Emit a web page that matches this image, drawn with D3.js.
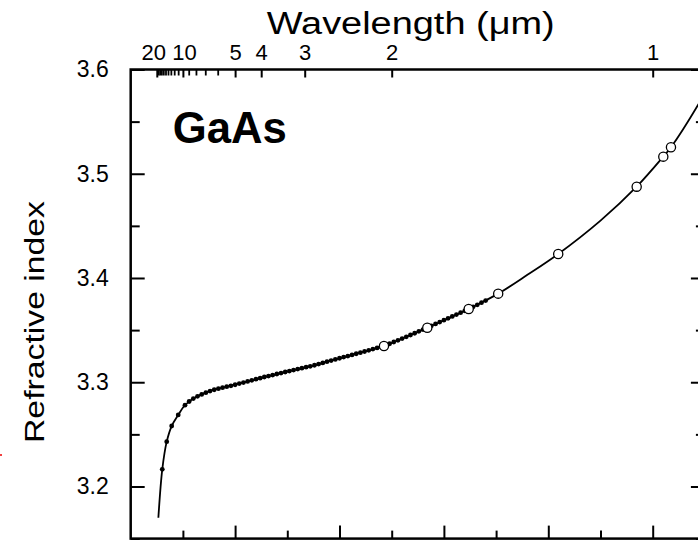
<!DOCTYPE html>
<html>
<head>
<meta charset="utf-8">
<script src="https://cdn.jsdelivr.net/npm/d3@7"></script>
<style>
  html, body { margin: 0; padding: 0; background: #fff; }
  svg { display: block; }
  text { font-family: "Liberation Sans", Arial, Helvetica, sans-serif; fill: #000; }
</style>
</head>
<body>
<svg id="chart" width="698" height="540"></svg>
<script>
// ---- data (x = 1/wavelength in µm^-1, y = refractive index) ----
const lineK = [0.053, 0.0605, 0.069, 0.0785, 0.091, 0.104, 0.126, 0.158, 0.190, 0.222, 0.254, 0.286, 0.318, 0.350, 0.381, 0.430, 0.485, 0.530, 0.568, 0.6475, 0.704, 0.760, 0.819, 0.900, 0.9693, 1.0203, 1.035, 1.0868, 1.100];
const lineN = [3.170, 3.2165, 3.243, 3.258, 3.2686, 3.278, 3.286, 3.2926, 3.2964, 3.3005, 3.3047, 3.3086, 3.3124, 3.3160, 3.3204, 3.3270, 3.3348, 3.3440, 3.3523, 3.3703, 3.3850, 3.4030, 3.4230, 3.4550, 3.4876, 3.5164, 3.5254, 3.5660, 3.5780];

const dotK = [0.0605, 0.069, 0.0785, 0.091, 0.104, 0.112, 0.120, 0.128, 0.136, 0.144, 0.152, 0.160, 0.168, 0.176, 0.184, 0.192, 0.200, 0.208, 0.216, 0.224, 0.232, 0.240, 0.248, 0.256, 0.264, 0.272, 0.280, 0.288, 0.296, 0.304, 0.312, 0.320, 0.328, 0.336, 0.344, 0.352, 0.360, 0.368, 0.376, 0.384, 0.392, 0.400, 0.408, 0.416, 0.424, 0.432, 0.440, 0.448, 0.456, 0.464, 0.472, 0.480, 0.488, 0.496, 0.504, 0.512, 0.520, 0.528, 0.536, 0.544, 0.552, 0.560, 0.568, 0.576, 0.584, 0.592, 0.600, 0.608, 0.616, 0.624, 0.632, 0.640, 0.648, 0.656, 0.664, 0.672, 0.680];
const dotN = [3.2165, 3.243, 3.258, 3.2686, 3.278, 3.2815, 3.2843, 3.2865, 3.2883, 3.2900, 3.2915, 3.2928, 3.2938, 3.2948, 3.2957, 3.2966, 3.2976, 3.2987, 3.2997, 3.3008, 3.3018, 3.3029, 3.3039, 3.3050, 3.3059, 3.3069, 3.3079, 3.3088, 3.3098, 3.3107, 3.3117, 3.3126, 3.3135, 3.3144, 3.3153, 3.3163, 3.3174, 3.3185, 3.3197, 3.3208, 3.3219, 3.3230, 3.3241, 3.3251, 3.3262, 3.3273, 3.3284, 3.3295, 3.3306, 3.3318, 3.3329, 3.3341, 3.3353, 3.3369, 3.3386, 3.3402, 3.3419, 3.3436, 3.3453, 3.3470, 3.3488, 3.3505, 3.3523, 3.3541, 3.3559, 3.3577, 3.3595, 3.3613, 3.3631, 3.3649, 3.3667, 3.3685, 3.3704, 3.3723, 3.3743, 3.3763, 3.3783];

const circK = [0.4852, 0.5682, 0.6475, 0.704, 0.819, 0.9693, 1.0203, 1.035];
const circN = [3.3348, 3.3523, 3.3703, 3.385, 3.423, 3.4876, 3.5164, 3.5254];

const topMajor = [20, 10, 5, 4, 3, 2, 1];            // wavelength labels (µm)
const topMinor = [19, 18, 17, 16, 15, 14, 13, 12, 11, 9, 8, 7, 6];
const yMajor = [3.2, 3.3, 3.4, 3.5, 3.6];
const yMinor = [3.15, 3.25, 3.35, 3.45, 3.55];
const xMajor = [0.2, 0.4, 0.6, 0.8, 1.0];
const xMinor = [0.1, 0.3, 0.5, 0.7, 0.9];

const titleTop = "Wavelength (\u03bcm)";
const titleY = "Refractive index";
const label = "GaAs";

// ---- layout ----
const svg = d3.select("#chart");
const x = d3.scaleLinear().domain([0, 1.1]).range([130.7, 704.9]);
const y = d3.scaleLinear().domain([3.15, 3.6]).range([538.6, 69.5]);
const [x0, x1] = x.range();
const [y0, y1] = y.range();
const FONT = '"Liberation Sans", Arial, sans-serif';

function styleAxis(g, width) {
  g.select(".domain").remove();
  g.selectAll(".tick line").attr("stroke", "#000").attr("stroke-width", width);
}

// left axis
svg.append("g").attr("transform", `translate(${x0},0)`)
  .call(d3.axisLeft(y).tickValues(yMajor).tickSize(-14).tickPadding(22).tickFormat(d3.format(".1f")))
  .call(g => styleAxis(g, 2))
  .call(g => g.selectAll("text").attr("font-size", 23).attr("font-family", FONT));
svg.append("g").attr("transform", `translate(${x0},0)`)
  .call(d3.axisLeft(y).tickValues(yMinor).tickSize(-9).tickFormat(""))
  .call(g => styleAxis(g, 2));

// right axis
svg.append("g").attr("transform", `translate(${x1},0)`)
  .call(d3.axisRight(y).tickValues(yMajor).tickSize(-14).tickFormat(""))
  .call(g => styleAxis(g, 2));
svg.append("g").attr("transform", `translate(${x1},0)`)
  .call(d3.axisRight(y).tickValues(yMinor).tickSize(-9).tickFormat(""))
  .call(g => styleAxis(g, 2));

// bottom axis
svg.append("g").attr("transform", `translate(0,${y0})`)
  .call(d3.axisBottom(x).tickValues(xMajor).tickSize(-13).tickFormat(""))
  .call(g => styleAxis(g, 2));
svg.append("g").attr("transform", `translate(0,${y0})`)
  .call(d3.axisBottom(x).tickValues(xMinor).tickSize(-8).tickFormat(""))
  .call(g => styleAxis(g, 2));

// top axis (wavelength)
svg.append("g").attr("transform", `translate(0,${y1})`)
  .call(d3.axisTop(x).tickValues(topMajor.map(l => 1 / l)).tickSize(-8).tickPadding(10)
    .tickFormat((d, i) => String(topMajor[i])))
  .call(g => styleAxis(g, 2))
  .call(g => g.selectAll("text").attr("font-size", 22).attr("font-family", FONT)
    .attr("dx", (d, i) => i === 0 ? -3.5 : (i === 1 ? 1 : 0)));
svg.append("g").attr("transform", `translate(0,${y1})`)
  .call(d3.axisTop(x).tickValues(topMinor.map(l => 1 / l)).tickSize(-6).tickFormat(""))
  .call(g => styleAxis(g, 1.8));

// frame
svg.append("rect")
  .attr("x", x0).attr("y", y1).attr("width", x1 - x0).attr("height", y0 - y1)
  .attr("fill", "none").attr("stroke", "#000").attr("stroke-width", 2.5);

// curve
const lineData = lineK.map((k, i) => [k, lineN[i]]);
svg.append("path")
  .datum(lineData)
  .attr("fill", "none").attr("stroke", "#000").attr("stroke-width", 1.8)
  .attr("d", d3.line().x(d => x(d[0])).y(d => y(d[1])).curve(d3.curveCatmullRom.alpha(0.5)));

// small filled dots
svg.append("g").selectAll("circle")
  .data(dotK.map((k, i) => [k, dotN[i]]))
  .join("circle")
  .attr("cx", d => x(d[0])).attr("cy", d => y(d[1])).attr("r", 2.4)
  .attr("fill", "#000");

// open circles
svg.append("g").selectAll("circle")
  .data(circK.map((k, i) => [k, circN[i]]))
  .join("circle")
  .attr("cx", d => x(d[0])).attr("cy", d => y(d[1])).attr("r", 4.6)
  .attr("fill", "#fff").attr("stroke", "#000").attr("stroke-width", 1.3);

// titles
svg.append("text")
  .attr("x", 266.7).attr("y", 33.5)
  .attr("font-size", 31)
  .attr("textLength", 288).attr("lengthAdjust", "spacingAndGlyphs")
  .text(titleTop);

svg.append("text")
  .attr("transform", "translate(44,443) rotate(-90)")
  .attr("font-size", 27)
  .attr("textLength", 242).attr("lengthAdjust", "spacingAndGlyphs")
  .text(titleY);

svg.append("text")
  .attr("x", 172.7).attr("y", 142.7)
  .attr("font-size", 44).attr("font-weight", "bold")
  .attr("textLength", 114).attr("lengthAdjust", "spacingAndGlyphs")
  .text(label);

// small red mark at left edge of the reference
svg.append("circle").attr("cx", 1).attr("cy", 455).attr("r", 1).attr("fill", "#e00");
</script>
</body>
</html>
